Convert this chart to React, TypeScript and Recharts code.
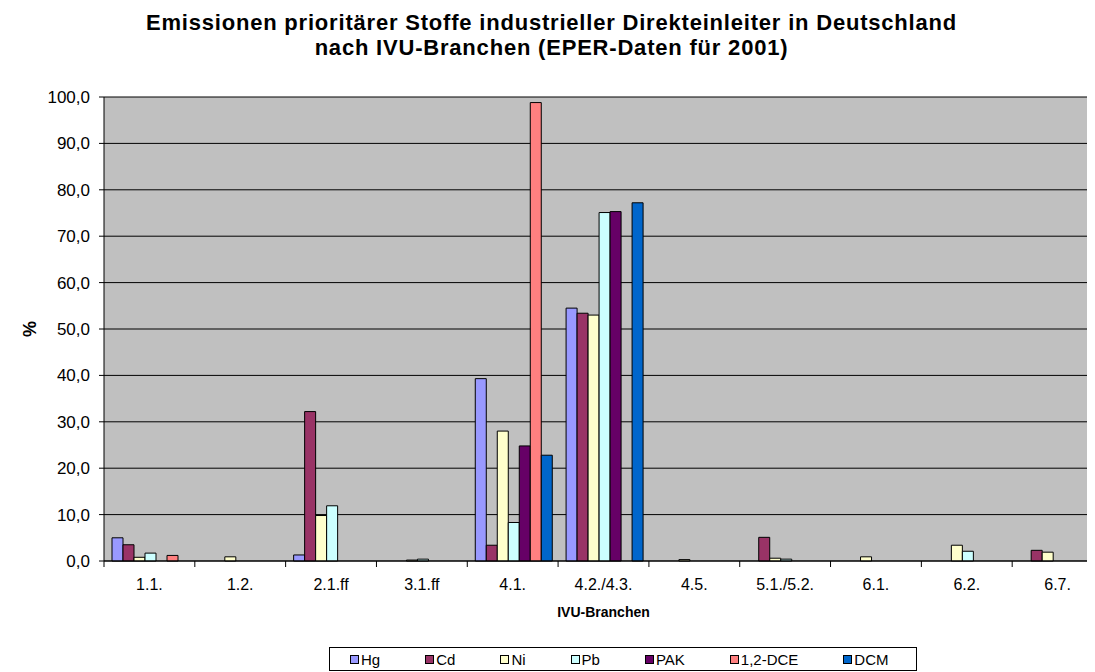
import { BarChart, Bar, XAxis, YAxis, CartesianGrid, Legend } from 'recharts';

const categories = ['1.1.', '1.2.', '2.1.ff', '3.1.ff', '4.1.', '4.2./4.3.', '4.5.', '5.1./5.2.', '6.1.', '6.2.', '6.7.'];

const hg = [5.0, 0, 1.3, 0, 39.3, 54.5, 0, 0, 0, 0, 0];
const cd = [3.5, 0, 32.2, 0, 3.4, 53.4, 0, 5.1, 0, 0, 2.3];
const ni = [0.8, 0.9, 9.8, 0.2, 28.0, 53.0, 0.3, 0.6, 0.9, 3.4, 1.9];
const pb = [1.7, 0, 11.9, 0.4, 8.3, 75.1, 0, 0.4, 0, 2.1, 0];
const pak = [0, 0, 0, 0, 24.8, 75.3, 0, 0, 0, 0, 0];
const dce = [1.2, 0, 0, 0, 98.8, 0, 0, 0, 0, 0, 0];
const dcm = [0, 0, 0, 0, 22.8, 77.2, 0, 0, 0, 0, 0];

const yTicks = [0, 10, 20, 30, 40, 50, 60, 70, 80, 90, 100];

const series = [
    { key: 'Hg', values: hg, color: '#9999FF' },
    { key: 'Cd', values: cd, color: '#993366' },
    { key: 'Ni', values: ni, color: '#FFFFCC' },
    { key: 'Pb', values: pb, color: '#CCFFFF' },
    { key: 'PAK', values: pak, color: '#660066' },
    { key: '1,2-DCE', values: dce, color: '#FF8080' },
    { key: 'DCM', values: dcm, color: '#0066CC' },
];

const rows = categories.map((name, i) => {
    const row: Record<string, string | number> = { name };
    series.forEach(s => { row[s.key] = s.values[i]; });
    return row;
});

const FONT = 'Arial, "Liberation Sans", sans-serif';
const CHART_W = 1100;
const CHART_H = 664;
const PLOT_LEFT = 96;
const PLOT_RIGHT = 1095;
const PLOT_TOP = 89;
const PLOT_BOTTOM = 553;
const BAND = (PLOT_RIGHT - PLOT_LEFT) / categories.length;

const fmt = (v: number) => v.toFixed(1).replace('.', ',');

function XTick(props: any) {
    const { x, y, payload } = props;
    const left = x - BAND / 2;
    return (
        <g>
            <line x1={left} y1={y} x2={left} y2={y + 6} stroke="#000" />
            <text x={x} y={y + 29} textAnchor="middle" fontSize={16} fill="#000" fontFamily={FONT}>
                {payload.value}
            </text>
        </g>
    );
}

function LegendBox() {
    return (
        <div style={{
            border: '1px solid #000', background: '#fff', height: 24, boxSizing: 'border-box',
            display: 'flex', alignItems: 'center', paddingLeft: 20, fontFamily: FONT, fontSize: 15,
            whiteSpace: 'nowrap',
        }}>
            {series.map(s => (
                <div key={s.key} style={{ display: 'flex', alignItems: 'center', marginRight: 45, flexShrink: 0 }}>
                    <span style={{ width: 9, height: 9, border: '1px solid #000', background: s.color, marginRight: 2, boxSizing: 'border-box' }} />
                    <span>{s.key}</span>
                </div>
            ))}
        </div>
    );
}

export default function App() {
    return (
        <div style={{ position: 'relative', width: 1087, height: CHART_H, overflow: 'hidden', fontFamily: FONT }}>
            <div style={{
                position: 'absolute', top: 2, left: 0, width: 1087, textAlign: 'center',
                fontSize: 22, fontWeight: 'bold', lineHeight: '25px', letterSpacing: '0.8px', color: '#000', zIndex: 2,
            }}>
                Emissionen prioritärer Stoffe industrieller Direkteinleiter in Deutschland<br />
                nach IVU-Branchen (EPER-Daten für 2001)
            </div>
            <BarChart
                width={CHART_W}
                height={CHART_H}
                data={rows}
                margin={{ top: PLOT_TOP, right: CHART_W - PLOT_RIGHT, bottom: CHART_H - PLOT_BOTTOM - 60, left: 0 }}
                barCategoryGap={8}
                barGap={0}
            >
                <CartesianGrid fill="#C0C0C0" vertical={false} stroke="#000" />
                <XAxis
                    dataKey="name"
                    height={60}
                    stroke="#000"
                    tickLine={false}
                    tickSize={0}
                    tickMargin={0}
                    interval={0}
                    tick={<XTick />}
                    label={{ value: 'IVU-Branchen', position: 'insideBottom', offset: 4, fontSize: 14, fontWeight: 'bold', fill: '#000', fontFamily: FONT }}
                />
                <YAxis
                    width={PLOT_LEFT}
                    domain={[0, 100]}
                    ticks={yTicks}
                    interval={0}
                    stroke="#000"
                    tickSize={5}
                    tickMargin={9}
                    tickFormatter={fmt}
                    tick={{ fontSize: 17, fill: '#000', fontFamily: FONT }}
                    label={{
                        content: () => (
                            <text x={22} y={(PLOT_TOP + PLOT_BOTTOM) / 2} transform={`rotate(-90 22 ${(PLOT_TOP + PLOT_BOTTOM) / 2})`}
                                textAnchor="middle" dominantBaseline="central" fontSize={18} fontWeight="bold" fill="#000" fontFamily={FONT}>
                                %
                            </text>
                        ),
                    }}
                />
                <Legend
                    layout="horizontal"
                    verticalAlign="middle"
                    align="center"
                    content={<LegendBox />}
                    wrapperStyle={{ position: 'absolute', left: 321, top: 639, width: 588, height: 24 }}
                />
                {series.map(s => (
                    <Bar key={s.key} dataKey={s.key} fill={s.color} stroke="#000" strokeWidth={1} isAnimationActive={false} />
                ))}
            </BarChart>
        </div>
    );
}
